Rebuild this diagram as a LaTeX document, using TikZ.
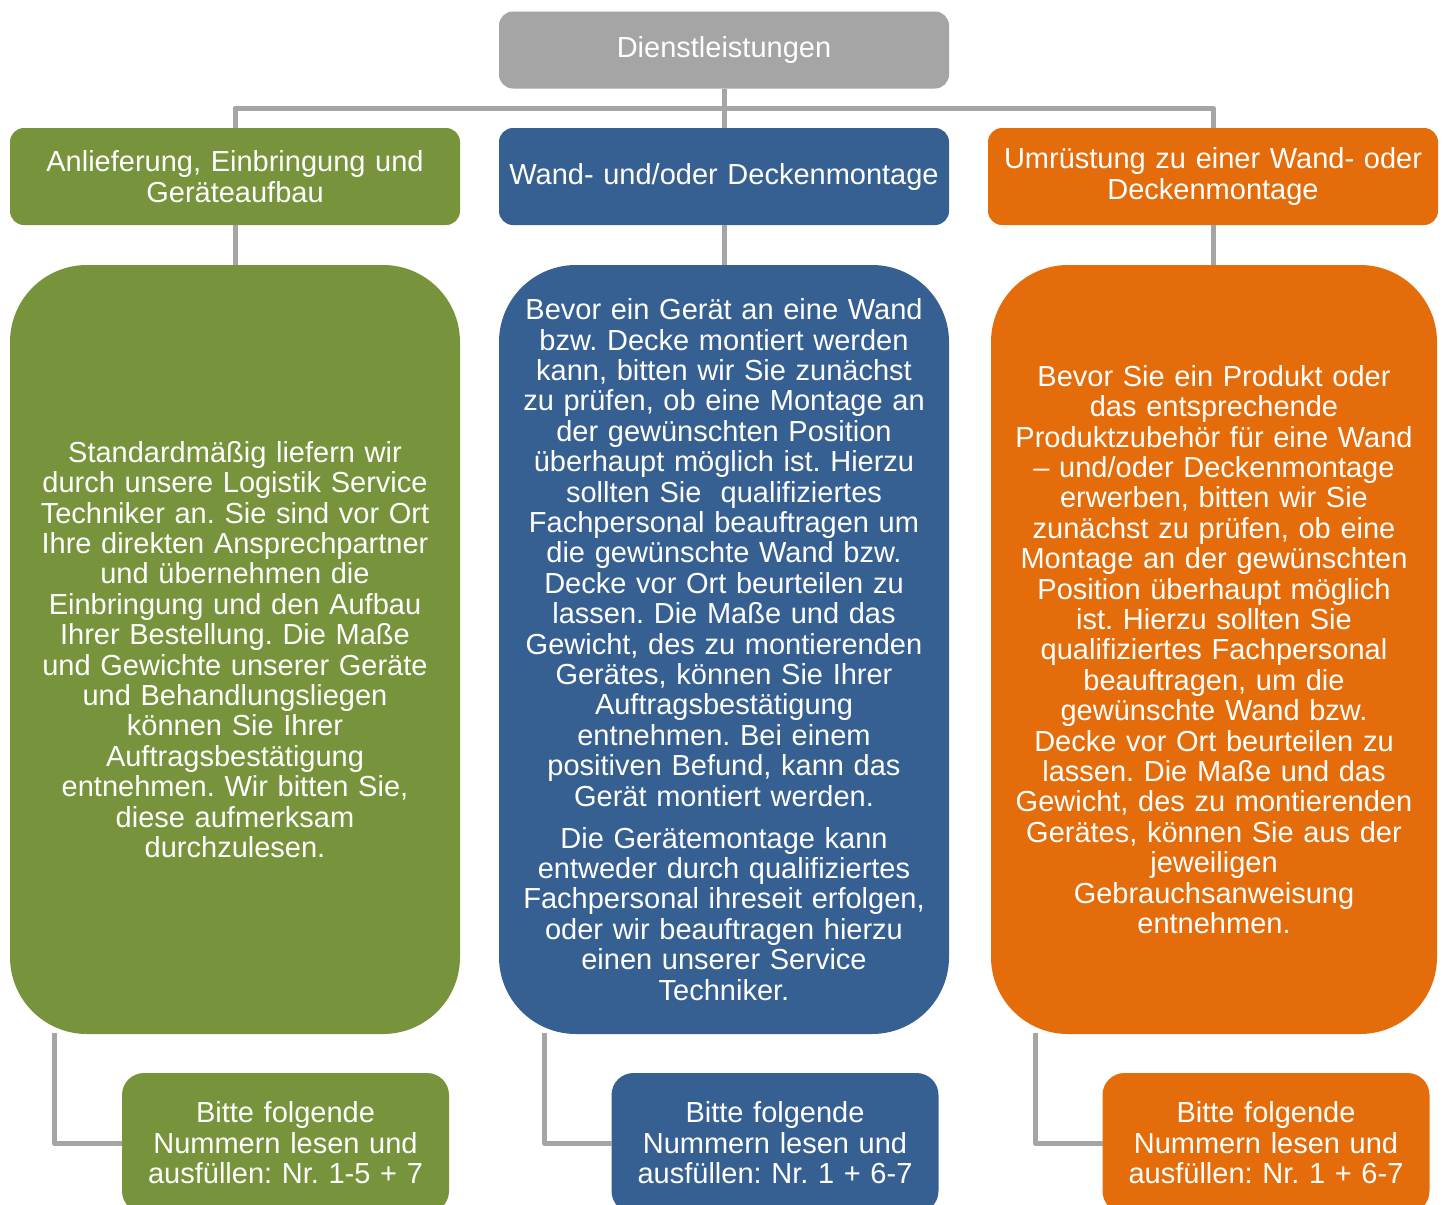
\documentclass[tikz,border=0pt]{standalone}
\usepackage{fontspec}
\setmainfont{Liberation Sans}
\frenchspacing
\definecolor{cgray}{HTML}{A5A5A5}
\definecolor{cgreen}{HTML}{77933C}
\definecolor{cblue}{HTML}{376092}
\definecolor{corange}{HTML}{E46C0A}
\definecolor{cline}{HTML}{A5A5A5}
\begin{document}
\begin{tikzpicture}[x=1pt,y=-1pt,
  box/.style={draw=none, text=white, align=center, inner sep=0pt, outer sep=0pt,
    font=\fontsize{29}{30.4}\selectfont\frenchspacing},
  headbox/.style={box, rounded corners=14pt, minimum width=450pt, text width=450pt, minimum height=97pt},
  bigbox/.style={box, rounded corners=77pt, minimum height=769pt},
  notebox/.style={box, rounded corners=22pt, minimum width=327pt, text width=327pt, minimum height=140pt},
  conn/.style={draw=cline, line width=5pt, line join=round}]
\useasboundingbox (0,0) rectangle (1444,1205);
\fill[white] (0,0) rectangle (1444,1205);
\clip (0,0) rectangle (1444,1205);

% top
\node[box, fill=cgray, rounded corners=14pt, minimum width=450pt, text width=450pt, minimum height=77pt] (top) at (724,50) {Dienstleistungen};

% level 2
\node[headbox, fill=cgreen] (a1) at (235,176.5) {Anlieferung, Einbringung und\\Geräteaufbau};
\node[headbox, fill=cblue] (a2) at (724,176.5) {Wand- und/oder Deckenmontage};
\node[headbox, fill=corange] (a3) at (1213,176.5) {Umrüstung zu einer Wand- oder\\Deckenmontage};

% big boxes
\node[bigbox, fill=cgreen, minimum width=450pt, text width=450pt] (b1) at (235,649.5) {Standardmäßig liefern wir\\durch unsere Logistik Service\\Techniker an. Sie sind vor Ort\\Ihre direkten Ansprechpartner\\und übernehmen die\\Einbringung und den Aufbau\\Ihrer Bestellung. Die Maße\\und Gewichte unserer Geräte\\und Behandlungsliegen\\können Sie Ihrer\\Auftragsbestätigung\\entnehmen. Wir bitten Sie,\\diese aufmerksam\\durchzulesen.};
\node[bigbox, fill=cblue, minimum width=450pt, text width=450pt] (b2) at (724,649.5) {Bevor ein Gerät an eine Wand\\bzw. Decke montiert werden\\kann, bitten wir Sie zunächst\\zu prüfen, ob eine Montage an\\der gewünschten Position\\überhaupt möglich ist. Hierzu\\sollten Sie\ \ qualifiziertes\\Fachpersonal beauftragen um\\die gewünschte Wand bzw.\\Decke vor Ort beurteilen zu\\lassen. Die Maße und das\\Gewicht, des zu montierenden\\Gerätes, können Sie Ihrer\\Auftragsbestätigung\\entnehmen. Bei einem\\positiven Befund, kann das\\Gerät montiert werden.\\[11.6pt]Die Gerätemontage kann\\entweder durch qualifiziertes\\Fachpersonal ihreseit erfolgen,\\oder wir beauftragen hierzu\\einen unserer Service\\Techniker.};
\node[bigbox, fill=corange, minimum width=446pt, text width=446pt] (b3) at (1214,649.5) {Bevor Sie ein Produkt oder\\das entsprechende\\Produktzubehör für eine Wand\\– und/oder Deckenmontage\\erwerben, bitten wir Sie\\zunächst zu prüfen, ob eine\\Montage an der gewünschten\\Position überhaupt möglich\\ist. Hierzu sollten Sie\\qualifiziertes Fachpersonal\\beauftragen, um die\\gewünschte Wand bzw.\\Decke vor Ort beurteilen zu\\lassen. Die Maße und das\\Gewicht, des zu montierenden\\Gerätes, können Sie aus der\\jeweiligen\\Gebrauchsanweisung\\entnehmen.};

% notes
\node[notebox, fill=cgreen] (c1) at (285.5,1143) {Bitte folgende\\Nummern lesen und\\ausfüllen: Nr. 1-5 + 7};
\node[notebox, fill=cblue] (c2) at (775,1143) {Bitte folgende\\Nummern lesen und\\ausfüllen: Nr. 1 + 6-7};
\node[notebox, fill=corange] (c3) at (1266,1143) {Bitte folgende\\Nummern lesen und\\ausfüllen: Nr. 1 + 6-7};

% connectors
\coordinate (bus) at (724,108);
\draw[conn] (top.south) -- (a2.north);
\draw[conn] (bus) -| (a1.north);
\draw[conn] (bus) -| (a3.north);
\draw[conn] (a1.south) -- (b1.north);
\draw[conn] (a2.south) -- (b2.north);
\draw[conn] (a3.south) -- (a3.south |- b3.north);
\draw[conn] ([xshift=44pt,yshift=1pt]b1.south west) |- (c1.west);
\draw[conn] ([xshift=45pt,yshift=1pt]b2.south west) |- (c2.west);
\draw[conn] ([xshift=44pt,yshift=1pt]b3.south west) |- (c3.west);
\end{tikzpicture}
\end{document}
